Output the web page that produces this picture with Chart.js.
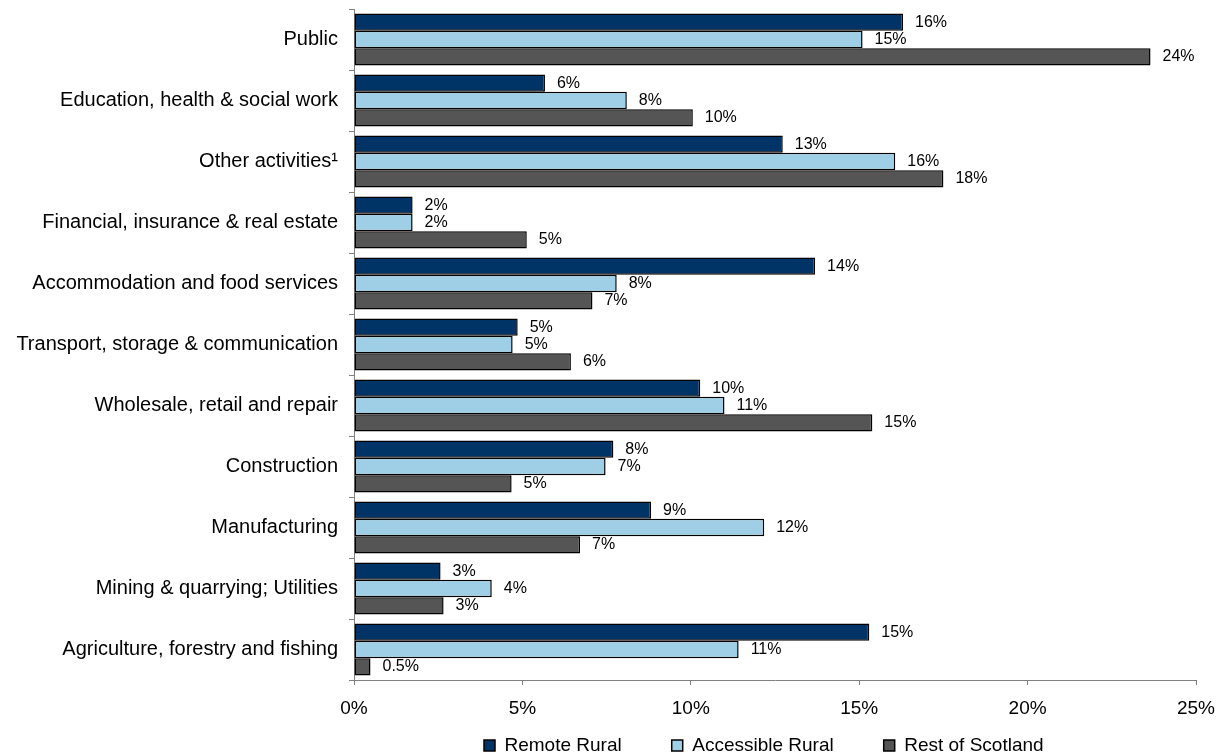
<!DOCTYPE html>
<html>
<head>
<meta charset="utf-8">
<script src="https://cdn.jsdelivr.net/npm/chart.js@4.4.1/dist/chart.umd.min.js"></script>
<style>
  html, body { margin: 0; padding: 0; background: #fff; }
</style>
</head>
<body>
<canvas id="sectors" width="1219" height="756"></canvas>
<script>
// categories top to bottom
var categories = [
  "Public",
  "Education, health & social work",
  "Other activities\u00B9",
  "Financial, insurance & real estate",
  "Accommodation and food services",
  "Transport, storage & communication",
  "Wholesale, retail and repair",
  "Construction",
  "Manufacturing",
  "Mining & quarrying; Utilities",
  "Agriculture, forestry and fishing"
];
var seriesNames = ["Remote Rural", "Accessible Rural", "Rest of Scotland"];
var remoteRural     = [16.3, 5.67, 12.73, 1.74, 13.69, 4.86, 10.28, 7.7, 8.82, 2.57, 15.3];
var accessibleRural = [15.1, 8.1, 16.07, 1.74, 7.8, 4.71, 11.0, 7.47, 12.18, 4.09, 11.42];
var restOfScotland  = [23.65, 10.06, 17.5, 5.13, 7.08, 6.44, 15.39, 4.68, 6.71, 2.66, 0.49];
var seriesColours = ["#003366", "#9ECFE7", "#555555"];
var xMax = 25;
var xStep = 5;

var fontFamily = '"Liberation Sans", Arial, sans-serif';
Chart.defaults.font.family = fontFamily;
Chart.defaults.color = "#000";

function pctLabel(v) {
  return (v < 1 ? v.toFixed(1) : Math.round(v)) + "%";
}

// value labels to the right of each bar
var barValueLabels = {
  id: "barValueLabels",
  afterDatasetsDraw: function(chart) {
    var ctx = chart.ctx;
    ctx.save();
    ctx.font = "16px " + fontFamily;
    ctx.fillStyle = "#000";
    ctx.textBaseline = "middle";
    ctx.textAlign = "left";
    chart.data.datasets.forEach(function(ds, i) {
      chart.getDatasetMeta(i).data.forEach(function(bar, j) {
        ctx.fillText(pctLabel(ds.data[j]), bar.x + 12, bar.y);
      });
    });
    ctx.restore();
  }
};

// legend sits under the plot area, not the whole canvas
var legendPlacer = {
  id: "legendPlacer",
  afterLayout: function(chart) {
    chart.legend.left = 434;
    chart.legend.top = 686;
  }
};

function noScalePadding(scale) {
  scale.paddingTop = 0;
  scale.paddingBottom = 0;
  scale.paddingLeft = 0;
  scale.paddingRight = 0;
}

var datasets = [remoteRural, accessibleRural, restOfScotland].map(function(vals, i) {
  return {
    label: seriesNames[i],
    data: vals,
    backgroundColor: seriesColours[i],
    borderColor: "#000",
    borderWidth: 1.5,
    borderSkipped: false,
    categoryPercentage: 0.855,
    barPercentage: 1.0
  };
});

new Chart(document.getElementById("sectors"), {
  type: "bar",
  data: { labels: categories, datasets: datasets },
  options: {
    indexAxis: "y",
    responsive: false,
    animation: false,
    devicePixelRatio: 1,
    layout: { padding: { top: 9, right: 23, bottom: 0, left: 0 } },
    scales: {
      x: {
        min: 0,
        max: xMax,
        ticks: {
          stepSize: xStep,
          padding: 12,
          font: { size: 19 },
          callback: function(v) { return v + "%"; }
        },
        grid: { drawOnChartArea: false, drawTicks: true, tickLength: 5, color: "#808080" },
        border: { color: "#808080", width: 1 },
        afterFit: function(scale) { scale.height = 46; noScalePadding(scale); }
      },
      y: {
        ticks: { padding: 11, font: { size: 20 } },
        grid: { drawOnChartArea: false, drawTicks: true, tickLength: 5, color: "#808080" },
        border: { color: "#808080", width: 1 },
        afterFit: function(scale) { scale.width = 354; noScalePadding(scale); }
      }
    },
    plugins: {
      tooltip: { enabled: false },
      legend: {
        position: "bottom",
        align: "start",
        maxHeight: 30,
        labels: {
          boxWidth: 11,
          boxHeight: 11,
          padding: 50,
          font: { size: 19 },
          color: "#000"
        }
      }
    }
  },
  plugins: [barValueLabels, legendPlacer]
});
</script>
</body>
</html>
